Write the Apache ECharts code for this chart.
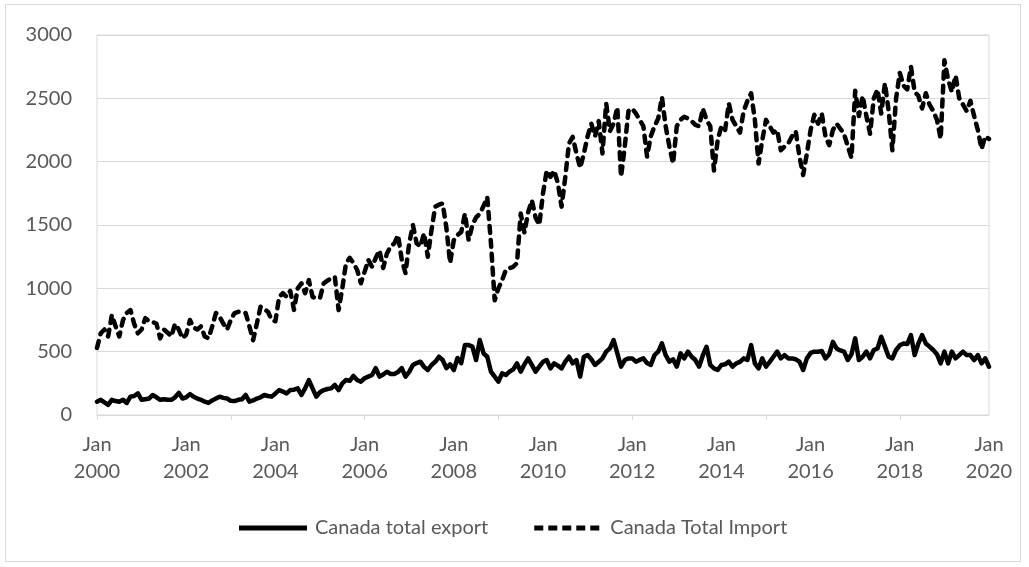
<!DOCTYPE html>
<html>
<head>
<meta charset="utf-8">
<script src="https://cdn.jsdelivr.net/npm/echarts@6/dist/echarts.min.js"></script>
<style>
html,body{margin:0;padding:0;background:#fff;}
#chart{width:1029px;height:567px;}
</style>
</head>
<body>
<div id="chart"></div>
<script>
const monthNames = ['Jan','Feb','Mar','Apr','May','Jun','Jul','Aug','Sep','Oct','Nov','Dec'];
const startYear = 2000;
const monthCount = 241;
const categories = [];
for (let i = 0; i < monthCount; i++) {
  categories.push(monthNames[i % 12] + '\n' + (startYear + Math.floor(i / 12)));
}

const exportValues = [
105,120,100,80,120,110,105,120,95,145,150,170,
120,125,130,158,140,120,125,120,120,140,175,130,
140,165,145,130,120,105,95,115,130,145,135,130,
112,110,120,125,158,105,115,130,140,158,150,145,
170,197,185,170,197,200,210,158,210,276,210,145,
180,197,205,210,237,197,250,276,270,308,276,263,
290,303,316,370,303,320,342,324,324,340,370,303,
340,395,410,421,380,355,395,420,460,434,370,400,
355,450,410,552,552,540,434,592,487,460,342,303,
263,329,316,342,360,408,342,400,447,395,342,382,
420,434,368,408,390,368,421,460,408,434,303,460,
473,440,395,420,447,500,526,592,487,382,434,447,
447,421,435,447,410,395,473,500,566,473,421,440,
382,487,447,500,460,434,382,470,539,395,368,355,
395,400,421,382,408,420,447,434,552,408,368,447,
382,420,460,500,447,473,447,447,440,421,355,447,
490,500,500,505,447,480,578,525,510,500,434,480,
605,434,460,500,447,513,525,618,540,460,447,513,
550,565,560,631,473,565,631,565,540,513,480,408,
500,408,500,447,473,500,473,473,434,473,408,447,
381
];

const importValues = [
530,645,675,620,790,700,620,750,805,828,720,645,
675,765,740,735,720,605,675,650,620,720,675,605,
635,750,690,675,700,620,605,700,805,775,720,675,
750,805,815,815,805,700,590,720,855,835,815,750,
740,930,962,933,980,830,1000,1040,962,1065,933,920,
925,1040,1060,1080,1090,828,1000,1200,1240,1200,1145,1040,
1130,1225,1170,1240,1300,1160,1275,1330,1355,1420,1225,1120,
1355,1500,1355,1330,1435,1250,1460,1645,1660,1670,1480,1200,
1380,1420,1445,1590,1380,1500,1560,1590,1650,1720,1355,905,
1000,1065,1145,1160,1170,1200,1590,1440,1600,1695,1560,1500,
1750,1930,1880,1930,1830,1645,1880,2145,2195,2065,1950,2065,
2200,2300,2200,2320,2065,2460,2240,2300,2430,1880,2120,2400,
2420,2380,2330,2280,2040,2200,2280,2340,2510,2280,2120,1985,
2280,2330,2355,2340,2320,2290,2280,2420,2330,2280,1930,2170,
2280,2250,2460,2330,2280,2230,2400,2480,2540,2330,1985,2170,
2330,2280,2230,2250,2090,2120,2145,2200,2240,2040,1895,2065,
2250,2370,2300,2380,2200,2130,2250,2300,2260,2220,2120,2030,
2560,2360,2520,2360,2220,2500,2570,2380,2620,2400,2090,2500,
2700,2600,2570,2750,2550,2520,2420,2540,2450,2400,2330,2180,
2800,2650,2550,2680,2500,2450,2400,2480,2360,2250,2100,2200,
2180
];

const seriesNames = ['Canada total export', 'Canada Total Import'];
const yTicks = { min: 0, max: 3000, interval: 500 };

const FONT = 'Lato';
const TEXT = '#595959';
const GRID = '#d9d9d9';

const solidIcon = 'path://M0,0H68V5H0Z';
const dashIcon = 'path://M0,0H9V5H0Z M14,0H23V5H14Z M28,0H37V5H28Z M42,0H51V5H42Z M56,0H65V5H56Z M68,0H68V5H68Z';

const chart = echarts.init(document.getElementById('chart'), null, {renderer: 'canvas'});
chart.setOption({
  animation: false,
  backgroundColor: '#ffffff',
  graphic: [{
    type: 'rect',
    shape: {x: 5.5, y: 4.5, width: 1015, height: 557},
    style: {fill: 'none', stroke: GRID, lineWidth: 1},
    silent: true
  }],
  grid: {
    left: 97, right: 40, top: 35, bottom: 152,
    show: true, borderColor: GRID, borderWidth: 1, containLabel: false
  },
  legend: {
    left: 234, top: 513,
    itemWidth: 68, itemHeight: 5, itemGap: 46,
    textStyle: {fontFamily: FONT, fontSize: 20, color: TEXT, padding: [0,0,0,3]},
    itemStyle: {color: '#000'},
    data: [
      {name: seriesNames[0], icon: solidIcon},
      {name: seriesNames[1], icon: dashIcon}
    ]
  },
  xAxis: {
    type: 'category',
    data: categories,
    boundaryGap: false,
    axisLine: {show: true, lineStyle: {color: GRID, width: 1}},
    axisTick: {show: true, length: 5, lineStyle: {color: GRID},
      interval: function (i) { return i % 36 === 0; }},
    axisLabel: {
      interval: function (i) { return i % 24 === 0; },
      fontFamily: FONT, fontSize: 20, color: TEXT, lineHeight: 27, margin: 16,
      showMaxLabel: true
    },
    splitLine: {show: false}
  },
  yAxis: {
    type: 'value',
    min: yTicks.min, max: yTicks.max, interval: yTicks.interval,
    axisLine: {show: false},
    axisTick: {show: false},
    axisLabel: {fontFamily: FONT, fontSize: 20, color: TEXT, margin: 25,
      formatter: function (v) { return String(v); }},
    splitLine: {show: true, lineStyle: {color: GRID, width: 1}}
  },
  series: [
    {
      name: seriesNames[0], type: 'line', data: exportValues,
      symbol: 'none', smooth: false,
      itemStyle: {color: '#000'},
      lineStyle: {color: '#000', width: 4.5, join: 'round', cap: 'round'}
    },
    {
      name: seriesNames[1], type: 'line', data: importValues,
      symbol: 'none', smooth: false,
      itemStyle: {color: '#000'},
      lineStyle: {color: '#000', width: 4.5, type: [7, 7], join: 'round', cap: 'round'}
    }
  ]
});
</script>
</body>
</html>
